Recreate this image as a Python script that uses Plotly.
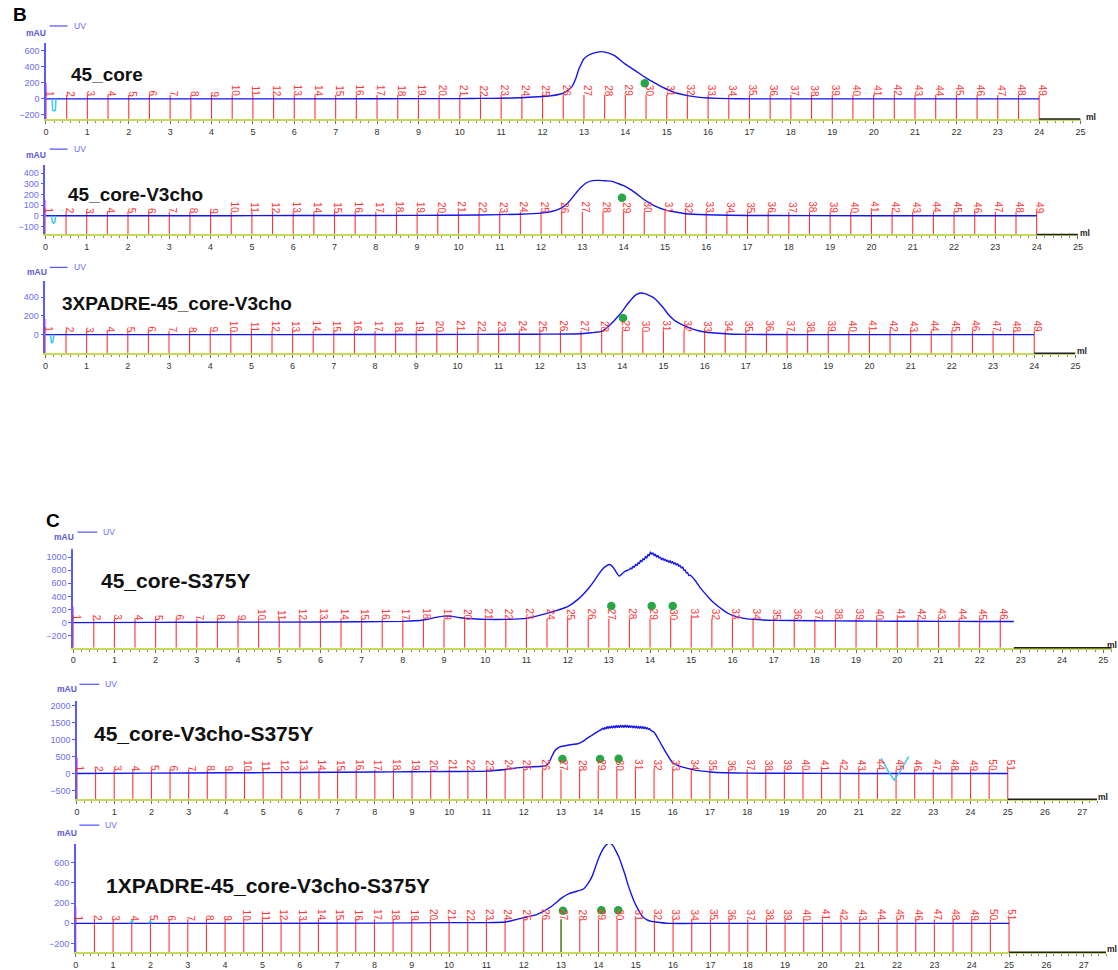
import plotly.graph_objects as go

W, H = 1118, 970
FONT = "Arial, 'Liberation Sans', Helvetica, sans-serif"

# ---------------- data ----------------
# Fraction collector: 0.5 ml tubes, tube n starts at (n - 1) * 0.5 ml
FRACTION_SIZE_ML = 0.5
B_TUBES = list(range(1, 50))
C1_TUBES = list(range(1, 47))
C2_TUBES = list(range(1, 52))
C3_TUBES = list(range(1, 52))

# UV absorbance traces (ml, mAU)
B1_ML = [0.0, 0.3, 2.0, 5.0, 8.0, 10.0, 10.5, 11.0, 11.5, 12.0, 12.25, 12.5, 12.62, 12.71, 12.8,
         12.87, 12.93, 12.99, 13.07, 13.15, 13.3, 13.43, 13.6, 13.75, 13.99, 14.24, 14.49, 14.75,
         15.0, 15.25, 15.5, 15.75, 16.0, 16.5, 17.0, 20.0, 24.0]
B1_MAU = [0, 0, 0, 0, 2, 4, 6, 8, 15, 29, 42, 70, 110, 153, 250,
          360, 430, 493, 530, 555, 578, 588, 570, 534, 435, 352, 265, 186,
          120, 70, 41, 22, 12, 3, 0, 0, 0]

B2_ML = [0.0, 0.3, 3.0, 6.0, 9.0, 10.5, 11.5, 12.0, 12.25, 12.5, 12.65, 12.8, 12.95, 13.1, 13.25,
         13.4, 13.55, 13.7, 13.85, 14.0, 14.15, 14.3, 14.5, 14.75, 15.0, 15.25, 15.5, 16.0, 17.0,
         20.0, 24.0]
B2_MAU = [0, 0, 0, 2, 4, 8, 15, 25, 40, 75, 120, 190, 260, 310, 330,
          332, 328, 325, 305, 282, 250, 210, 150, 94, 56, 35, 19, 9, 3,
          0, 0]

B3_ML = [0.0, 0.3, 3.0, 6.0, 9.0, 12.0, 13.0, 13.25, 13.5, 13.62, 13.75, 13.88, 14.0, 14.12, 14.25,
         14.35, 14.45, 14.55, 14.65, 14.75, 14.88, 15.0, 15.12, 15.25, 15.38, 15.5, 15.75, 16.0,
         16.5, 17.0, 20.0, 24.0]
B3_MAU = [0, 0, 0, 0, 2, 5, 10, 20, 35, 70, 124, 185, 248, 320, 390,
          428, 443, 436, 418, 396, 345, 283, 215, 159, 122, 96, 53, 28,
          10, 3, 0, 0]

C1_ML = [0.0, 2.0, 4.0, 6.0, 8.0, 8.5, 8.8, 9.0, 9.2, 9.4, 9.7, 10.0, 10.5, 11.0, 11.5, 12.0,
         12.25, 12.5, 12.65, 12.75, 12.85, 12.95, 13.02, 13.1, 13.18, 13.25, 13.32, 13.4, 13.46,
         13.50, 13.53, 13.56, 13.59, 13.62, 13.65, 13.68, 13.71, 13.74, 13.77, 13.80, 13.83,
         13.86, 13.89, 13.92, 13.95, 13.98, 14.01, 14.04, 14.07, 14.10, 14.13, 14.16, 14.19,
         14.22, 14.25, 14.28, 14.31, 14.34, 14.37, 14.40, 14.43, 14.46, 14.49, 14.52, 14.55,
         14.58, 14.61, 14.64, 14.67, 14.70, 14.73, 14.76, 14.79, 14.82, 14.85, 14.88, 14.91,
         14.94, 14.97, 15.0, 15.1, 15.25, 15.4, 15.5, 15.65, 15.75, 15.9, 16.0, 16.25, 16.5,
         17.0, 18.0, 19.0, 20.0, 21.0, 22.0, 22.83]
C1_MAU = [0, 5, 8, 10, 20, 40, 80, 100, 95, 75, 60, 50, 50, 66, 142, 244,
          355, 518, 640, 736, 820, 870, 888, 850, 770, 711, 745, 785, 800,
          812, 835, 820, 862, 845, 888, 870, 915, 900, 948, 930, 975,
          958, 1010, 985, 1040, 1020, 1080, 1045, 1065, 1020, 1045, 1000, 1025,
          985, 1000, 960, 985, 950, 970, 935, 955, 920, 945, 910, 930,
          895, 915, 880, 900, 860, 875, 835, 850, 800, 805, 760, 765,
          720, 725, 711, 640, 508, 400, 330, 250, 203, 140, 111, 70, 50,
          35, 30, 25, 22, 20, 18, 18]

C2_ML = [0.0, 2.0, 4.0, 6.0, 8.0, 9.0, 10.0, 11.0, 11.5, 12.0, 12.5, 12.6, 12.68, 12.76, 12.84,
         12.92, 13.0, 13.15, 13.3, 13.45, 13.6, 13.7, 13.8, 13.9, 14.0, 14.08,
         14.12, 14.15, 14.18, 14.21, 14.24, 14.27, 14.30, 14.33, 14.36, 14.39, 14.42, 14.45,
         14.48, 14.51, 14.54, 14.57, 14.60, 14.63, 14.66, 14.69, 14.72, 14.75, 14.78, 14.81,
         14.84, 14.87, 14.90, 14.93, 14.96, 14.99, 15.02, 15.05, 15.08, 15.11, 15.14, 15.17,
         15.20, 15.23, 15.26, 15.29, 15.32, 15.35, 15.38, 15.41,
         15.5, 15.6, 15.7, 15.85, 16.0, 16.2, 16.4, 16.6, 16.8, 17.0, 17.4, 18.0, 20.0, 22.0,
         25.0]
C2_MAU = [0, 10, 20, 30, 45, 50, 60, 70, 120, 190, 215, 240, 330, 520, 680,
          760, 800, 830, 860, 880, 960, 1040, 1110, 1180, 1250, 1300,
          1340, 1300, 1365, 1320, 1385, 1335, 1395, 1345, 1400, 1350, 1410, 1355,
          1420, 1360, 1415, 1365, 1425, 1370, 1420, 1365, 1430, 1370, 1420, 1360,
          1415, 1365, 1410, 1355, 1405, 1350, 1400, 1345, 1395, 1340, 1390, 1335,
          1385, 1330, 1375, 1320, 1360, 1305, 1330, 1280,
          1220, 1050, 850, 570, 320, 210, 150, 100, 70, 45, 20, 10, 5, 0,
          0]

C3_ML = [0.0, 2.0, 5.0, 8.0, 10.0, 11.0, 11.5, 12.0, 12.36, 12.7, 13.04, 13.2, 13.38, 13.6, 13.72,
         13.84, 14.0, 14.1, 14.18, 14.29, 14.38, 14.46, 14.55, 14.63, 14.72, 14.8, 14.9, 14.97,
         15.06, 15.14, 15.22, 15.31, 15.42, 15.54, 15.88, 17.0, 20.0, 25.0]
C3_MAU = [0, 0, 0, 2, 7, 7, 13, 56, 89, 156, 255, 290, 311, 338, 390,
          470, 635, 715, 761, 791, 770, 718, 650, 569, 470, 371, 270, 205,
          140, 89, 55, 33, 20, 13, 0, 0, 0, 0]

# Pooled fractions, marked with dots (ml, mAU)
B1_DOT_ML, B1_DOT_MAU = [14.47], [195]
B2_DOT_ML, B2_DOT_MAU = [13.96], [169]
B3_DOT_ML, B3_DOT_MAU = [14.02], [177]
C1_DOT_ML, C1_DOT_MAU = [13.06, 14.04, 14.55], [253, 253, 253]
C2_DOT_ML, C2_DOT_MAU = [13.04, 14.05, 14.55], [430, 430, 440]
C3_DOT_ML, C3_DOT_MAU = [13.05, 14.08, 14.53], [125, 130, 130]

# Injection / artefact segments of the UV signal (ml, mAU)
B1_CYAN_ML, B1_CYAN_MAU = [0.15, 0.16, 0.19, 0.23, 0.24], [0, -140, -150, -140, 0]
B2_CYAN_ML, B2_CYAN_MAU = [0.15, 0.17, 0.2, 0.23, 0.25], [0, -60, -70, -60, 0]
B3_CYAN_ML, B3_CYAN_MAU = [0.12, 0.15, 0.18, 0.21], [0, -85, -80, 0]
C2_CYAN_ML, C2_CYAN_MAU = [21.6, 21.8, 21.95, 22.1, 22.34], [450, 50, -200, 50, 500]
C3_CYAN_ML, C3_CYAN_MAU = [1.45, 1.5, 1.55, None, 1.95, 2.0, 2.05], [0, 25, 0, None, 0, 20, 0]

# Highlighted tube (collected, drawn in green)
C3_GREEN_TUBES = [27]

# ---------------- geometry (pixels) ----------------
# L: pixel of 0 ml, sx: px per ml, xmax: axis end (ml), Z: pixel of 0 mAU, sy: px per mAU
GEOM = {
    "B1": dict(L=43.3, sx=41.68, xmax=25.0, Z=99.0, sy=0.0805, ylo=-250, yhi=695, dtick=200),
    "B2": dict(L=42.7, sx=41.6, xmax=25.0, Z=216.0, sy=0.1067, ylo=-175, yhi=478, dtick=100),
    "B3": dict(L=42.7, sx=41.5, xmax=25.0, Z=335.0, sy=0.0942, ylo=-198, yhi=566, dtick=200),
    "C1": dict(L=70.7, sx=41.5, xmax=25.2, Z=623.3, sy=0.0656, ylo=-381, yhi=1117, dtick=200),
    "C2": dict(L=74.5, sx=37.5, xmax=27.4, Z=774.3, sy=0.0338, ylo=-760, yhi=2140, dtick=500),
    "C3": dict(L=73.3, sx=37.6, xmax=27.6, Z=924.3, sy=0.1017, ylo=-285, yhi=780, dtick=200),
}

PANELS = [
    dict(key="B1", title="45_core", tpos=(66, 74.5), tsize=19, ml=B1_ML, mau=B1_MAU, tubes=B_TUBES,
         run_end=24.0, dots=(B1_DOT_ML, B1_DOT_MAU), cyan=(B1_CYAN_ML, B1_CYAN_MAU),
         mau_pos=(33, 33), uv=(47, 65, 26), ml_pos=(1096, 117)),
    dict(key="B2", title="45_core-V3cho", tpos=(63, 194.5), tsize=19, ml=B2_ML, mau=B2_MAU, tubes=B_TUBES,
         run_end=24.0, dots=(B2_DOT_ML, B2_DOT_MAU), cyan=(B2_CYAN_ML, B2_CYAN_MAU),
         mau_pos=(33, 155), uv=(47, 65, 149.3), ml_pos=(1090, 233)),
    dict(key="B3", title="3XPADRE-45_core-V3cho", tpos=(57, 303.5), tsize=19, ml=B3_ML, mau=B3_MAU,
         tubes=B_TUBES, run_end=24.0, dots=(B3_DOT_ML, B3_DOT_MAU), cyan=(B3_CYAN_ML, B3_CYAN_MAU),
         mau_pos=(34, 272), uv=(47, 65, 267.7), ml_pos=(1087, 351)),
    dict(key="C1", title="45_core-S375Y", tpos=(97, 581.5), tsize=21, ml=C1_ML, mau=C1_MAU, tubes=C1_TUBES,
         run_end=22.83, dots=(C1_DOT_ML, C1_DOT_MAU), cyan=None,
         mau_pos=(61, 538), uv=(75, 95, 532.7), ml_pos=(1117, 646)),
    dict(key="C2", title="45_core-V3cho-S375Y", tpos=(90, 734.5), tsize=21, ml=C2_ML, mau=C2_MAU,
         tubes=C2_TUBES, run_end=25.0, dots=(C2_DOT_ML, C2_DOT_MAU), cyan=(C2_CYAN_ML, C2_CYAN_MAU),
         mau_pos=(64, 690), uv=(77, 97, 685), ml_pos=(1108, 798)),
    dict(key="C3", title="1XPADRE-45_core-V3cho-S375Y", tpos=(102, 886.5), tsize=21, ml=C3_ML, mau=C3_MAU,
         tubes=C3_TUBES, run_end=25.0, dots=(C3_DOT_ML, C3_DOT_MAU), cyan=(C3_CYAN_ML, C3_CYAN_MAU),
         mau_pos=(64, 834), uv=(77, 97, 826), ml_pos=(1117, 950), green_tubes=C3_GREEN_TUBES),
]

RED = "#ff3535"
BLUE = "#1414ec"
CYAN = "#3cc8f5"
GREEN_DOT = "#27a846"
AXIS_GREEN = "#c6da5a"
YAX = "#5a5aff"
YTXT = "#6e6ef5"


def paper_x(px):
    return px / W


def paper_y(py):
    return 1 - py / H


fig = go.Figure()
annotations = []
shapes = []
layout_axes = {}

for i, p in enumerate(PANELS):
    n = i + 1
    xid = "x" if n == 1 else f"x{n}"
    yid = "y" if n == 1 else f"y{n}"
    g = GEOM[p["key"]]
    L, sx, xmax, Z, sy = g["L"], g["sx"], g["xmax"], g["Z"], g["sy"]
    ylo, yhi = g["ylo"], g["yhi"]

    layout_axes["xaxis" if n == 1 else f"xaxis{n}"] = dict(
        domain=[paper_x(L), paper_x(L + xmax * sx)], range=[0, xmax], anchor=yid,
        showgrid=False, zeroline=False, showline=True, linecolor=AXIS_GREEN, linewidth=2,
        ticks="outside", ticklen=3, tickcolor="#6b6b6b", tickwidth=1, tick0=0, dtick=1,
        tickfont=dict(family=FONT, size=9, color="#333333"), tickangle=0,
        minor=dict(ticks="outside", ticklen=2, tickcolor="#8a8a8a", dtick=0.2, tick0=0),
        fixedrange=True,
    )
    layout_axes["yaxis" if n == 1 else f"yaxis{n}"] = dict(
        domain=[paper_y(Z - ylo * sy), paper_y(Z - yhi * sy)], range=[ylo, yhi], anchor=xid,
        showgrid=False, zeroline=False, showline=True, linecolor=YAX, linewidth=1.5,
        ticks="outside", ticklen=3, tickcolor=YAX, tick0=0, dtick=g["dtick"],
        tickfont=dict(family=FONT, size=9, color=YTXT), fixedrange=True,
    )

    # fraction tube marks
    tube_ml = [(t - 1) * FRACTION_SIZE_ML for t in p["tubes"]]
    line_top = 4.0 / sy
    xs, ys = [], []
    for m in tube_ml:
        xs += [m, m, None]
        ys += [ylo, line_top, None]
    fig.add_trace(go.Scatter(x=xs, y=ys, mode="lines", line=dict(color=RED, width=1.1),
                             xaxis=xid, yaxis=yid, hoverinfo="skip", showlegend=False))
    for t in p.get("green_tubes", []):
        m = (t - 1) * FRACTION_SIZE_ML
        fig.add_trace(go.Scatter(x=[m, m], y=[ylo, line_top], mode="lines",
                                 line=dict(color="#2a9a3a", width=1.3),
                                 xaxis=xid, yaxis=yid, hoverinfo="skip", showlegend=False))
    for t, m in zip(p["tubes"], tube_ml):
        annotations.append(dict(
            x=m, y=0, xref=xid, yref=yid, text=str(t), textangle=90, showarrow=False,
            xanchor="center", yanchor="bottom", xshift=3, yshift=1, borderpad=0,
            font=dict(family=FONT, size=10, color=RED)))

    # injection marker on the y axis
    shapes.append(dict(type="line", xref=xid, yref=yid, x0=0, x1=0, y0=0, y1=16.0 / sy,
                       line=dict(color="#ff4cff", width=1.5)))

    # UV signal
    fig.add_trace(go.Scatter(x=p["ml"], y=p["mau"], mode="lines",
                             line=dict(color=BLUE, width=1.4, shape="spline", smoothing=0.5),
                             xaxis=xid, yaxis=yid, hoverinfo="skip", showlegend=False))
    if p["cyan"] is not None:
        fig.add_trace(go.Scatter(x=p["cyan"][0], y=p["cyan"][1], mode="lines",
                                 line=dict(color=CYAN, width=1.5), connectgaps=False,
                                 xaxis=xid, yaxis=yid, hoverinfo="skip", showlegend=False))

    # pooled fractions
    fig.add_trace(go.Scatter(x=p["dots"][0], y=p["dots"][1], mode="markers",
                             marker=dict(color=GREEN_DOT, size=8.5),
                             xaxis=xid, yaxis=yid, hoverinfo="skip", showlegend=False))

    # end of run: axis continues in black
    shapes.append(dict(type="line", xref=xid, yref=f"{yid} domain", x0=p["run_end"], x1=xmax,
                       y0=0, y1=0, line=dict(color="#202020", width=1.5)))

    # sample name
    annotations.append(dict(
        x=paper_x(p["tpos"][0]), y=paper_y(p["tpos"][1]), xref="paper", yref="paper",
        text=f"<b>{p['title']}</b>", showarrow=False, xanchor="left", yanchor="middle",
        font=dict(family=FONT, size=p["tsize"], color="#111111")))

    # unit and legend
    annotations.append(dict(
        x=paper_x(p["mau_pos"][0]), y=paper_y(p["mau_pos"][1]), xref="paper", yref="paper",
        text="<b>mAU</b>", showarrow=False, xanchor="center", yanchor="middle",
        font=dict(family=FONT, size=8.5, color="#5a5ad8")))
    ux0, ux1, uy = p["uv"]
    shapes.append(dict(type="line", xref="paper", yref="paper", x0=paper_x(ux0), x1=paper_x(ux1),
                       y0=paper_y(uy), y1=paper_y(uy), line=dict(color="#5c5cff", width=1.3)))
    annotations.append(dict(
        x=paper_x(ux1 + 4), y=paper_y(uy), xref="paper", yref="paper", text="UV",
        showarrow=False, xanchor="left", yanchor="middle",
        font=dict(family=FONT, size=8.5, color="#6a6aff")))
    annotations.append(dict(
        x=paper_x(p["ml_pos"][0]), y=paper_y(p["ml_pos"][1]), xref="paper", yref="paper",
        text="<b>ml</b>", showarrow=False, xanchor="center", yanchor="middle",
        font=dict(family=FONT, size=8.5, color="#222222")))

# panel letters
annotations.append(dict(x=paper_x(8), y=paper_y(15), xref="paper", yref="paper", text="<b>B</b>",
                        showarrow=False, xanchor="left", yanchor="middle",
                        font=dict(family=FONT, size=19, color="#000000")))
annotations.append(dict(x=paper_x(41), y=paper_y(521.5), xref="paper", yref="paper", text="<b>C</b>",
                        showarrow=False, xanchor="left", yanchor="middle",
                        font=dict(family=FONT, size=19, color="#000000")))

fig.update_layout(
    width=W, height=H, autosize=False,
    margin=dict(l=0, r=0, t=0, b=0),
    paper_bgcolor="white", plot_bgcolor="white",
    showlegend=False, annotations=annotations, shapes=shapes,
    font=dict(family=FONT),
    **layout_axes,
)

fig.write_html("out.html", config={"displayModeBar": False})
